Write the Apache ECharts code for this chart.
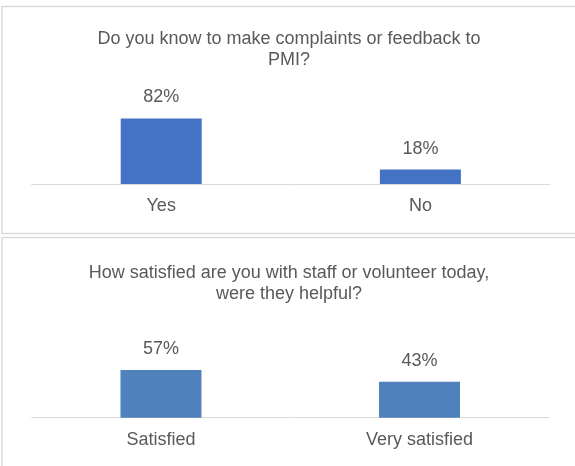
<!DOCTYPE html>
<html>
<head>
<meta charset="utf-8">
<script src="https://cdn.jsdelivr.net/npm/echarts@6/dist/echarts.min.js"></script>
<style>
  html, body { margin: 0; padding: 0; background: #fff; }
  #chart { width: 575px; height: 466px; }
</style>
</head>
<body>
<div id="chart"></div>
<script>
// Survey answers, percent of respondents
const complaintCategories = ['Yes', 'No'];
const complaintValues = [82, 18];
const satisfactionCategories = ['Satisfied', 'Very satisfied'];
const satisfactionValues = [57, 43];

const complaintTitle = 'Do you know to make complaints or feedback to\nPMI?';
const satisfactionTitle = 'How satisfied are you with staff or volunteer today,\nwere they helpful?';

const textColor = '#595959';
const lineColor = '#d9d9d9';
const font = 'Liberation Sans, Arial, sans-serif';

const chart = echarts.init(document.getElementById('chart'), null, { renderer: 'canvas' });

function categoryAxis(gridIndex, data) {
  return {
    type: 'category', gridIndex, data,
    axisTick: { show: false },
    axisLine: { lineStyle: { color: lineColor, width: 1 } },
    axisLabel: { color: textColor, fontSize: 18, fontFamily: font, margin: 13 }
  };
}
function valueAxis(gridIndex) {
  return { type: 'value', gridIndex, min: 0, max: 100, show: false, splitLine: { show: false } };
}
function barSeries(idx, data, color) {
  return {
    type: 'bar', xAxisIndex: idx, yAxisIndex: idx, data,
    barWidth: 81,
    itemStyle: { color },
    label: {
      show: true, position: 'top', distance: 12,
      formatter: '{c}%', color: textColor, fontSize: 18, fontFamily: font
    },
    silent: true
  };
}

chart.setOption({
  animation: false,
  title: [
    { text: complaintTitle, left: 289, top: 29, textAlign: 'center', padding: 0,
      textStyle: { color: textColor, fontSize: 18, fontWeight: 'normal', fontFamily: font, lineHeight: 21 } },
    { text: satisfactionTitle, left: 289, top: 263, textAlign: 'center', padding: 0,
      textStyle: { color: textColor, fontSize: 18, fontWeight: 'normal', fontFamily: font, lineHeight: 21 } }
  ],
  graphic: [
    { type: 'rect', shape: { x: 2, y: 6.5, width: 580, height: 227 },
      style: { fill: 'none', stroke: lineColor, lineWidth: 1.5 }, z: -1 },
    { type: 'rect', shape: { x: 2, y: 237.5, width: 580, height: 240 },
      style: { fill: 'none', stroke: lineColor, lineWidth: 1.5 }, z: -1 }
  ],
  grid: [
    { left: 31.6, right: 25, top: 104, height: 80 },
    { left: 31.7, right: 26.2, top: 334.2, height: 83.5 }
  ],
  xAxis: [categoryAxis(0, complaintCategories), categoryAxis(1, satisfactionCategories)],
  yAxis: [valueAxis(0), valueAxis(1)],
  series: [
    barSeries(0, complaintValues, '#4472C4'),
    barSeries(1, satisfactionValues, '#4F81BD')
  ]
});
</script>
</body>
</html>
